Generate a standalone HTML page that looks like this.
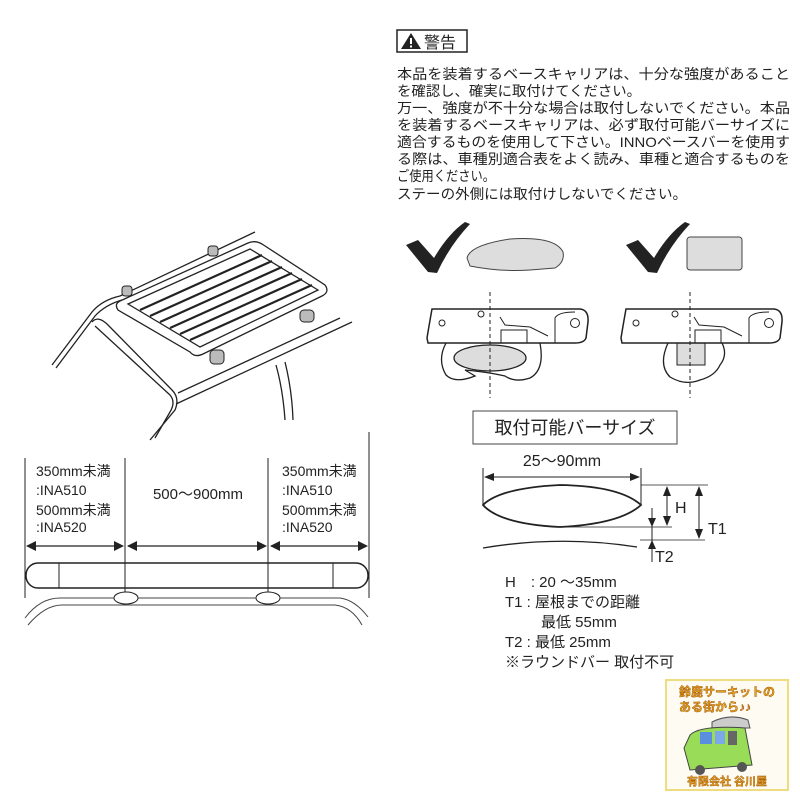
<!DOCTYPE html>
<html><head><meta charset="utf-8"><style>
html,body{margin:0;padding:0;background:#fff;}
svg{display:block;}
text{font-family:"Liberation Sans","Noto Sans CJK JP",sans-serif;fill:#222;}
</style></head><body>
<svg width="800" height="800" viewBox="0 0 800 800" xmlns="http://www.w3.org/2000/svg">
<defs>
<g id="clampL">
  <path d="M432,309 L580,309 Q589,310 588,322 L586,338 Q584,343 575,343 L428,343 L427,338 Q430,320 432,309 Z" fill="#fff" stroke="#222" stroke-width="1.5"/>
  <circle cx="442" cy="323" r="3" fill="none" stroke="#222"/>
  <circle cx="481" cy="314" r="3" fill="none" stroke="#222"/>
  <circle cx="575" cy="323" r="4.5" fill="none" stroke="#222"/>
  <path d="M555,343 L555,318 Q558,312 575,312" fill="none" stroke="#222"/>
  <path d="M500,317 L505,325 L530,327 L548,336" fill="none" stroke="#222"/>
  <rect x="501" y="330" width="26" height="13" fill="none" stroke="#222"/>
</g>
</defs>

<!-- warning -->
<rect x="397" y="30" width="70" height="22" fill="#fff" stroke="#222" stroke-width="1.5"/>
<path d="M401,49 L411,33 L421,49 Z" fill="#222"/>
<rect x="410" y="38" width="2" height="6" fill="#fff"/><rect x="410" y="45.5" width="2" height="2" fill="#fff"/>
<text x="424" y="48" font-size="16">警告</text>
<g font-size="14">
<text x="397" y="79" textLength="393" lengthAdjust="spacingAndGlyphs">本品を装着するベースキャリアは、十分な強度があること</text>
<text x="397" y="96" textLength="244" lengthAdjust="spacingAndGlyphs">を確認し、確実に取付けてください。</text>
<text x="397" y="113" textLength="393" lengthAdjust="spacingAndGlyphs">万一、強度が不十分な場合は取付しないでください。本品</text>
<text x="397" y="130" textLength="393" lengthAdjust="spacingAndGlyphs">を装着するベースキャリアは、必ず取付可能バーサイズに</text>
<text x="397" y="147" textLength="393" lengthAdjust="spacingAndGlyphs">適合するものを使用して下さい。INNOベースバーを使用す</text>
<text x="397" y="164" textLength="393" lengthAdjust="spacingAndGlyphs">る際は、車種別適合表をよく読み、車種と適合するものを</text>
<text x="397" y="181" textLength="98" lengthAdjust="spacingAndGlyphs">ご使用ください。</text>
<text x="397" y="199" textLength="290" lengthAdjust="spacingAndGlyphs">ステーの外側には取付けしないでください。</text>
</g>

<!-- checks -->
<path d="M406,245 L418,240 L434,258 Q448,234 465,222 L470,224 Q450,245 437,273 L428,272 Z" fill="#222"/>
<path d="M467,258 Q470,245 510,239 Q555,236 563,252 Q565,262 555,268 L530,270 Q500,272 470,266 Z" fill="#ddd" stroke="#444"/>
<path d="M626,245 L638,240 L654,258 Q668,234 685,222 L690,224 Q670,245 657,273 L648,272 Z" fill="#222"/>
<rect x="687" y="237" width="55" height="33" rx="3" fill="#ddd" stroke="#444"/>

<!-- clamps -->
<path d="M446,343 Q437,360 446,375 Q455,384 475,376 L465,370 Q488,372 505,376 Q515,383 530,378 Q545,370 540,343" fill="#fff" stroke="#222" stroke-width="1.3"/>
<ellipse cx="490" cy="358" rx="36" ry="13" fill="#ddd" stroke="#222" stroke-width="1.3"/>
<use href="#clampL"/>
<line x1="490" y1="292" x2="490" y2="398" stroke="#222" stroke-dasharray="4,3"/>

<path d="M668,343 Q658,365 670,377 Q685,386 700,380 Q715,376 720,365 Q728,355 722,343" fill="#fff" stroke="#222" stroke-width="1.3"/>
<rect x="677" y="343" width="28" height="22" fill="#ddd" stroke="#222"/>
<use href="#clampL" transform="translate(194,0)"/>
<line x1="690" y1="292" x2="690" y2="398" stroke="#222" stroke-dasharray="4,3"/>

<!-- bar size box -->
<rect x="473" y="411" width="204" height="33" fill="#fff" stroke="#444"/>
<text x="575" y="434" font-size="18" text-anchor="middle">取付可能バーサイズ</text>
<text x="562" y="466" font-size="16" text-anchor="middle">25〜90mm</text>
<line x1="483" y1="468" x2="483" y2="505" stroke="#222"/>
<line x1="641" y1="468" x2="641" y2="505" stroke="#222"/>
<line x1="486" y1="477" x2="638" y2="477" stroke="#222"/>
<path d="M484,477 L494,473 L494,481 Z M640,477 L630,473 L630,481 Z" fill="#222"/>
<path d="M483,505 Q500,488 560,485 Q620,486 641,505 Q620,524 560,527 Q500,524 483,505 Z" fill="#fff" stroke="#222" stroke-width="1.8"/>
<line x1="641" y1="485" x2="708" y2="485" stroke="#222" stroke-width="0.8"/>
<line x1="560" y1="527" x2="672" y2="527" stroke="#222" stroke-width="0.8"/>
<line x1="640" y1="540" x2="705" y2="540" stroke="#222" stroke-width="0.8"/>
<path d="M483,548 Q560,535 637,547" fill="none" stroke="#222" stroke-width="1.3"/>
<line x1="667" y1="490" x2="667" y2="522" stroke="#222"/>
<path d="M663,496 L667,486 L671,496 Z M663,516 L667,526 L671,516 Z" fill="#222"/>
<text x="675" y="513" font-size="16">H</text>
<line x1="699" y1="490" x2="699" y2="535" stroke="#222"/>
<path d="M695,496 L699,486 L703,496 Z M695,529 L699,539 L703,529 Z" fill="#222"/>
<text x="708" y="534" font-size="16">T1</text>
<line x1="652" y1="508" x2="652" y2="562" stroke="#222"/>
<path d="M648,518 L652,527 L656,518 Z M648,549 L652,540 L656,549 Z" fill="#222"/>
<text x="655" y="562" font-size="16">T2</text>
<g font-size="15">
<text x="505" y="587">H　: 20 ～35mm</text>
<text x="505" y="607">T1 : 屋根までの距離</text>
<text x="541" y="627">最低 55mm</text>
<text x="505" y="647">T2 : 最低 25mm</text>
<text x="505" y="667">※ラウンドバー 取付不可</text>
</g>

<!-- car roof with rack -->
<g fill="none" stroke="#222" stroke-width="1.3">
<path d="M52,365 L92,312 Q102,300 120,296 L255,232"/>
<path d="M56,368 L95,316 Q105,305 122,300"/>
<path d="M92,322 Q98,315 108,325 L172,390 Q180,398 175,410 L150,440"/>
<path d="M95,326 L170,395 Q176,402 170,412 L155,438"/>
<path d="M178,393 L340,318"/>
<path d="M176,404 L352,322"/>
<path d="M276,365 Q283,390 285,420"/>
<path d="M285,362 Q292,390 293,420"/>
<path d="M120,301 L248,243 Q255,240 262,244 L325,285 Q330,292 322,296 L203,354 Q195,358 190,352 L118,310 Q114,304 120,301 Z" fill="#fff"/>
<path d="M128,304 L250,249 L318,290 L200,347 Z"/>
</g>
<g stroke="#222" stroke-width="2.2">
<line x1="140" y1="310" x2="262" y2="255"/>
<line x1="150" y1="316" x2="272" y2="261"/>
<line x1="160" y1="322" x2="282" y2="267"/>
<line x1="170" y1="328" x2="292" y2="273"/>
<line x1="180" y1="334" x2="302" y2="279"/>
<line x1="190" y1="340" x2="312" y2="285"/>
</g>
<g fill="#bbb" stroke="#222">
<rect x="122" y="286" width="10" height="10" rx="3"/>
<rect x="208" y="246" width="10" height="10" rx="3"/>
<rect x="300" y="310" width="14" height="12" rx="4"/>
<rect x="210" y="350" width="14" height="14" rx="4"/>
</g>

<!-- bottom-left dimension -->
<g stroke="#222" stroke-width="1">
<line x1="25" y1="458" x2="25" y2="598"/>
<line x1="125" y1="458" x2="125" y2="598"/>
<line x1="268" y1="458" x2="268" y2="598"/>
<line x1="369" y1="432" x2="369" y2="598"/>
</g>
<g stroke="#222" stroke-width="1.3">
<line x1="28" y1="546" x2="122" y2="546"/><line x1="128" y1="546" x2="265" y2="546"/><line x1="271" y1="546" x2="366" y2="546"/>
</g>
<g fill="#222">
<path d="M26,546 L36,541 L36,551 Z M124,546 L114,541 L114,551 Z M127,546 L137,541 L137,551 Z M267,546 L257,541 L257,551 Z M270,546 L280,541 L280,551 Z M368,546 L358,541 L358,551 Z"/>
</g>
<g font-size="14">
<text x="36" y="476">350mm未満</text><text x="36" y="495">:INA510</text>
<text x="36" y="515">500mm未満</text><text x="36" y="532">:INA520</text>
<text x="282" y="476">350mm未満</text><text x="282" y="495">:INA510</text>
<text x="282" y="515">500mm未満</text><text x="282" y="532">:INA520</text>
<text x="198" y="499" text-anchor="middle" font-size="15">500〜900mm</text>
</g>
<rect x="26" y="563" width="342" height="25" rx="12" fill="none" stroke="#222" stroke-width="1.5"/>
<line x1="59" y1="563" x2="59" y2="588" stroke="#222"/>
<line x1="333" y1="563" x2="333" y2="588" stroke="#222"/>
<g fill="none" stroke="#444">
<path d="M25,618 Q40,598 60,598 L340,598 Q355,600 368,617"/>
<path d="M28,625 Q45,605 62,605 L335,605 Q352,607 362,625"/>
</g>
<ellipse cx="126" cy="598" rx="12" ry="6" fill="#fff" stroke="#222"/>
<ellipse cx="268" cy="598" rx="12" ry="6" fill="#fff" stroke="#222"/>

<!-- logo -->
<rect x="666" y="680" width="122" height="110" fill="#fefcf2" stroke="#f0dc80" stroke-width="2"/>
<text x="727" y="696" font-size="12" font-weight="bold" text-anchor="middle" style="fill:#e0a020;stroke:#a05000;stroke-width:0.4">鈴鹿サーキットの</text>
<text x="715" y="711" font-size="12" font-weight="bold" text-anchor="middle" style="fill:#e0a020;stroke:#a05000;stroke-width:0.4">ある街から♪♪</text>
<path d="M712,722 Q730,713 748,720 L750,728 L712,728 Z" fill="#ccc" stroke="#555"/>
<path d="M690,735 Q700,725 745,728 L752,765 L690,770 L684,748 Z" fill="#98dc58" stroke="#444"/>
<rect x="700" y="732" width="12" height="12" fill="#5a8fe0"/>
<rect x="715" y="731" width="10" height="13" fill="#7aa8e8"/>
<rect x="728" y="731" width="9" height="14" fill="#666"/>
<circle cx="700" cy="770" r="5" fill="#555"/><circle cx="742" cy="767" r="5" fill="#555"/>
<text x="727" y="785" font-size="11" font-weight="bold" text-anchor="middle" style="fill:#e0a020;stroke:#a05000;stroke-width:0.4">有限会社 谷川屋</text>
</svg>
</body></html>
